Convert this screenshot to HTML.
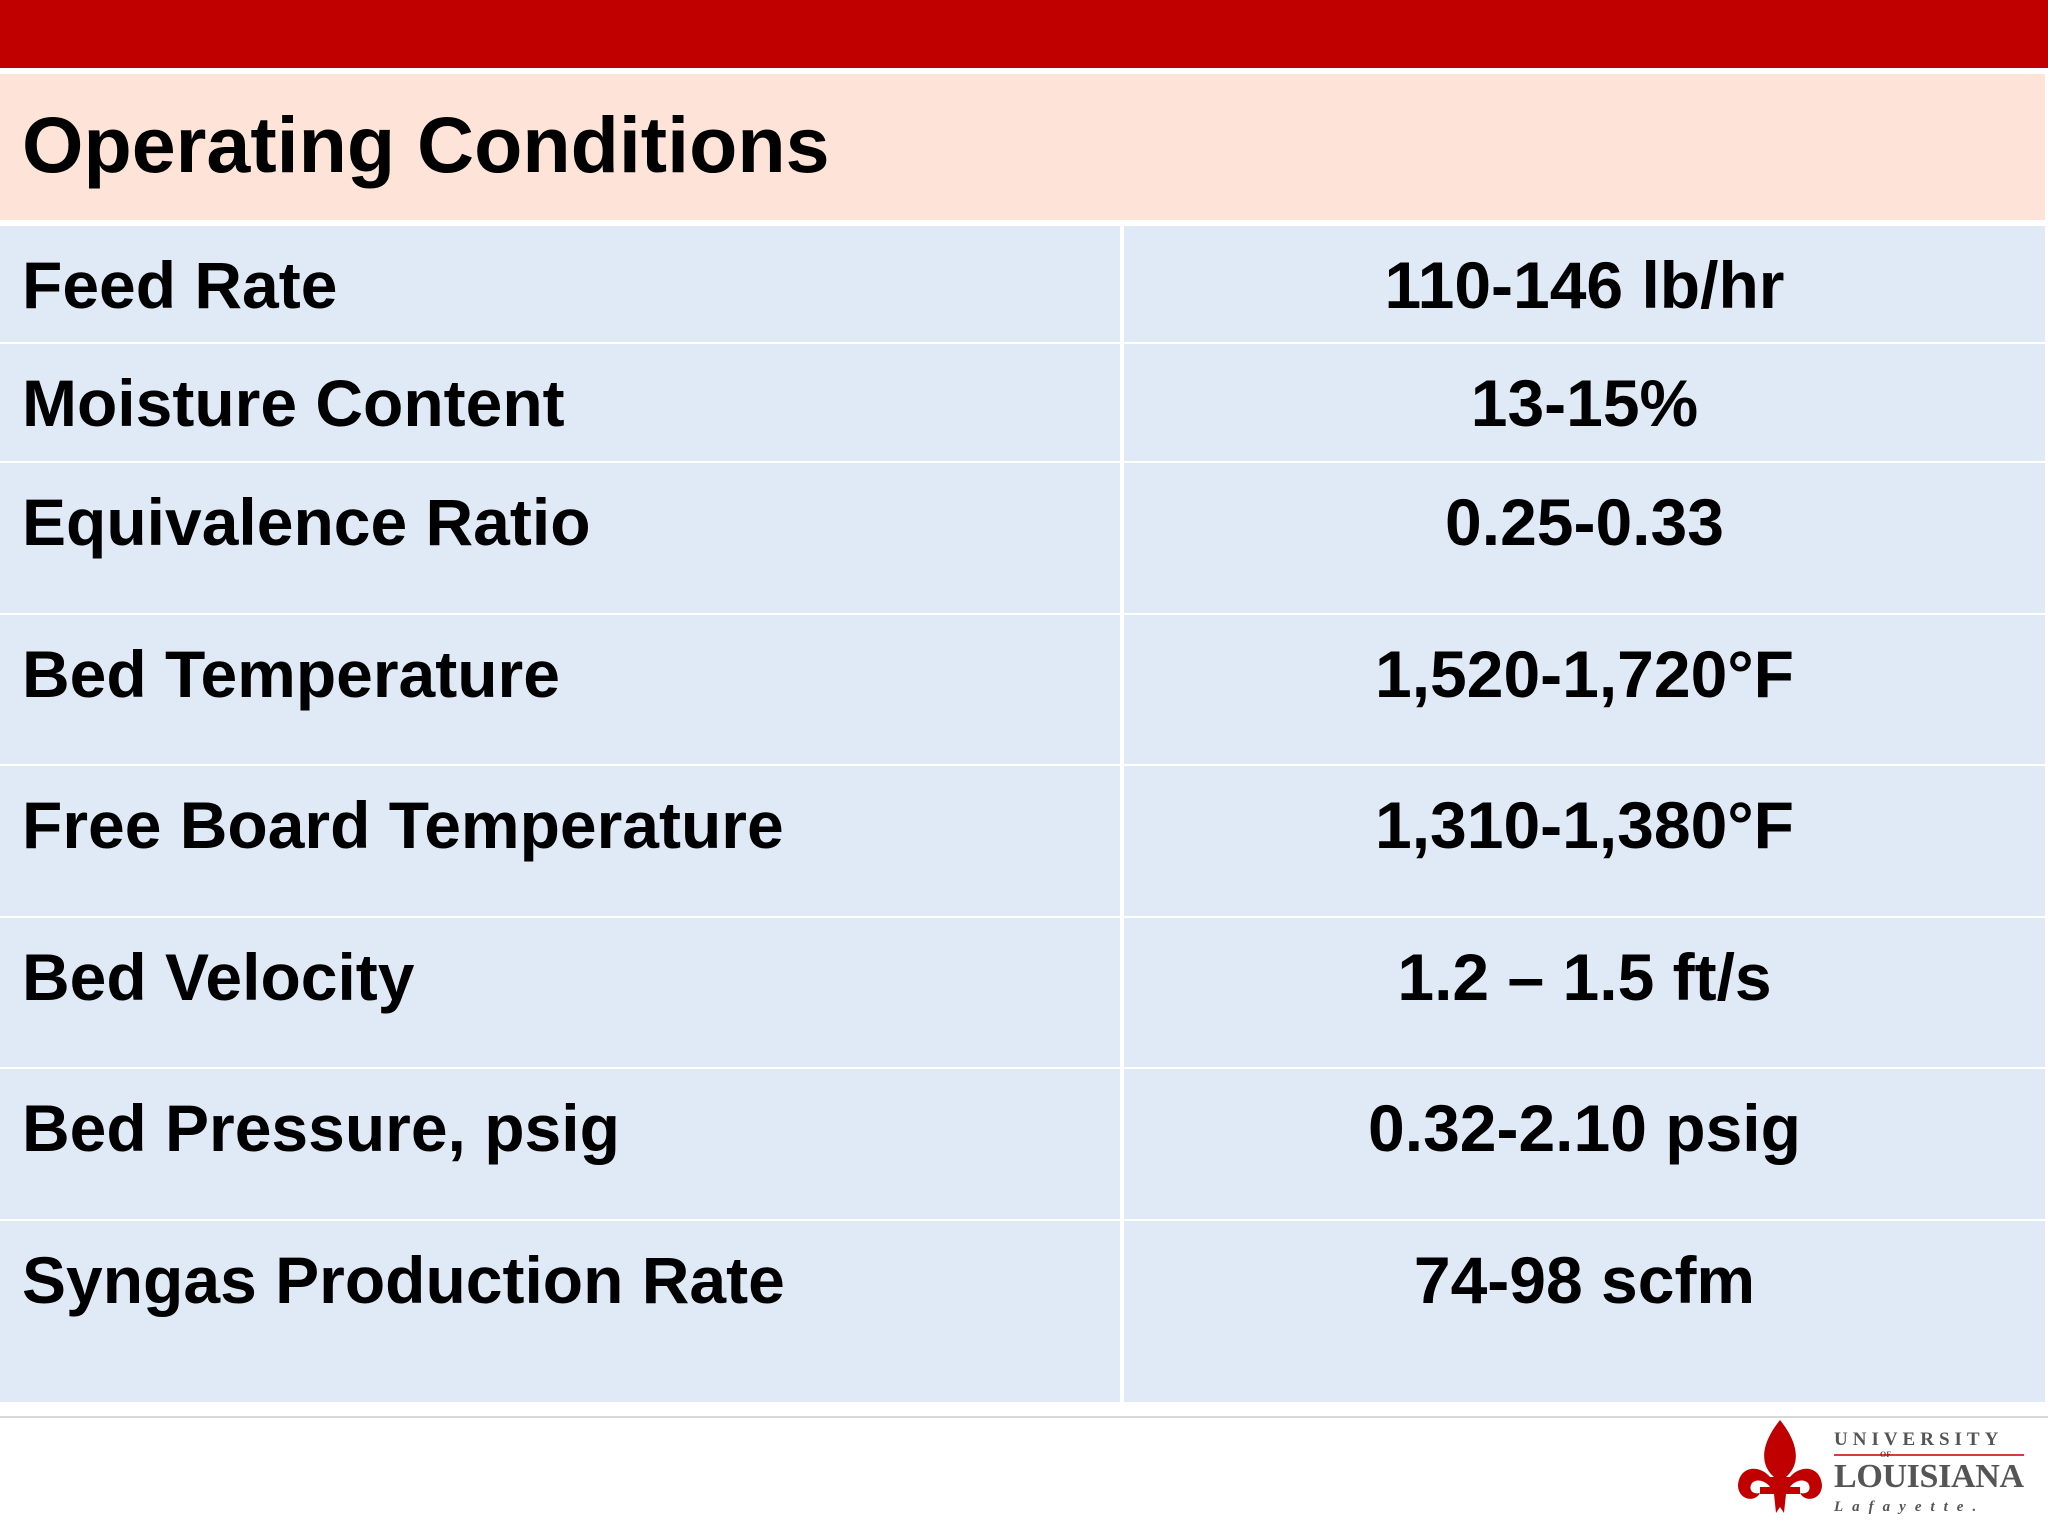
<!DOCTYPE html>
<html><head><meta charset="utf-8"><style>
body{margin:0;width:2048px;height:1536px;background:#fff;position:relative;overflow:hidden;font-family:"Liberation Sans",sans-serif;font-weight:bold;color:#000}
.abs{position:absolute}
.cell{position:absolute;background:#DFEAF6;font-size:66px;line-height:118px;white-space:nowrap}
.l{left:0;width:1120px;padding-left:22px;box-sizing:border-box}
.r{left:1124px;width:921px;text-align:center}
</style></head><body>
<div class="abs" style="left:0;top:0;width:2048px;height:68px;background:#C00000"></div>
<div class="abs" style="left:0;top:74px;width:2045px;height:146px;background:#FDE3D8;font-size:79px;line-height:142px;padding-left:22px;box-sizing:border-box">Operating Conditions</div>
<div id="rows"></div>
<div class="abs" style="left:0;top:1416px;width:2048px;height:2px;background:#d8d8d8"></div>
<div class="abs" style="left:1730px;top:1415px;width:300px;height:105px">
<svg width="300" height="105" viewBox="0 0 300 105"><g fill="#C00000"><path d="M50 5 C30 30 30 50 44 62 L40 62 C30 50 10 50 8 70 C8 85 25 88 30 78 C22 80 18 74 22 68 C28 62 38 68 40 72 L60 72 C62 68 72 62 78 68 C82 74 78 80 70 78 C75 88 92 85 92 70 C90 50 70 50 60 62 L56 62 C70 50 70 30 50 5Z"/><rect x="30" y="72" width="40" height="7"/><path d="M44 79 L56 79 L54 98 L50 92 L46 98Z"/></g>
<text x="104" y="30" font-family="Liberation Serif,serif" font-size="19" letter-spacing="5" fill="#555">UNIVERSITY</text>
<text x="150" y="42" font-family="Liberation Serif,serif" font-size="8" fill="#555">OF</text>
<text x="104" y="72" font-family="Liberation Serif,serif" font-size="34" fill="#555" textLength="190">LOUISIANA</text>
<text x="104" y="96" font-family="Liberation Serif,serif" font-style="italic" font-size="15" letter-spacing="9" fill="#555">Lafayette.</text>
<line x1="104" y1="40" x2="294" y2="40" stroke="#C00000" stroke-width="1.5"/></svg></div>
<script>
const labels=["Feed Rate","Moisture Content","Equivalence Ratio","Bed Temperature","Free Board Temperature","Bed Velocity","Bed Pressure, psig","Syngas Production Rate"];
const values=["110-146 lb/hr","13-15%","0.25-0.33","1,520-1,720°F","1,310-1,380°F","1.2 – 1.5 ft/s","0.32-2.10 psig","74-98 scfm"];
const tops=[226,344,463,615,766,918,1069,1221,1404];
const c=document.getElementById('rows');
for(let i=0;i<labels.length;i++){
 const h=tops[i+1]-tops[i]-2;
 const a=document.createElement('div');a.className='cell l';a.style.top=tops[i]+'px';a.style.height=h+'px';a.textContent=labels[i];
 
 
 const b=document.createElement('div');b.className='cell r';b.style.top=tops[i]+'px';b.style.height=h+'px';b.textContent=values[i];
 
 
 c.appendChild(a);c.appendChild(b);
}
</script>
</body></html>
